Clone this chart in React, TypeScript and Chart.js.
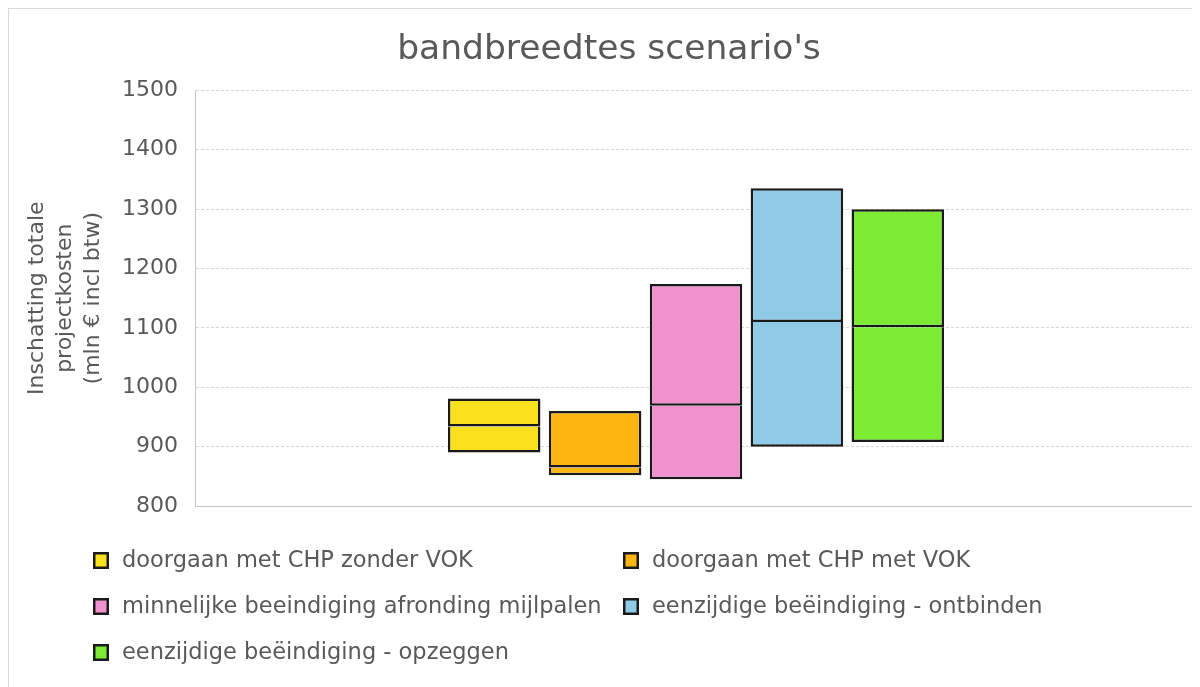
import React, { useEffect, useRef } from "react";
import { Chart, registerables } from "chart.js";

Chart.register(...registerables);

const chartTitle = "bandbreedtes scenario's";
const yAxisTitle = ["Inschatting totale", "projectkosten", "(mln € incl btw)"];
const scenarios = [
  "doorgaan met CHP zonder VOK",
  "doorgaan met CHP met VOK",
  "minnelijke beeindiging afronding mijlpalen",
  "eenzijdige beëindiging - ontbinden",
  "eenzijdige beëindiging - opzeggen",
];
const lowValues = [890, 852, 845, 900, 908];
const midValues = [934, 865, 969, 1110, 1101];
const highValues = [981, 960, 1174, 1335, 1300];
const colors = ["#F9E11E", "#FFB612", "#F092CD", "#8FCAE7", "#7BEB34"];
const yTickValues = [800, 900, 1000, 1100, 1200, 1300, 1400, 1500];

const TEXT = "#595959";
const FONT = "'DejaVu Sans', Verdana, sans-serif";

const gridLegend = {
  id: "gridLegend",
  afterDraw(chart: any) {
    const ctx = chart.ctx;
    const colX = [84, 614];
    const rowY = [551, 597, 643];
    ctx.save();
    ctx.font = `22.5px ${FONT}`;
    ctx.textBaseline = "middle";
    ctx.textAlign = "left";
    scenarios.forEach((name, i) => {
      const x = colX[i % 2];
      const y = rowY[Math.floor(i / 2)];
      ctx.fillStyle = colors[i];
      ctx.fillRect(x, y - 8, 16, 17);
      ctx.lineWidth = 2.5;
      ctx.strokeStyle = "#1a1a1a";
      ctx.strokeRect(x + 1.25, y - 6.75, 13.5, 14.5);
      ctx.fillStyle = TEXT;
      ctx.fillText(name, x + 29, y + 1);
    });
    ctx.restore();
  },
};

export default function App() {
  const ref = useRef<HTMLCanvasElement | null>(null);

  useEffect(() => {
    if (!ref.current) return;
    Chart.defaults.font.family = FONT;
    const datasets: any[] = [];
    scenarios.forEach((name, i) => {
      const common = {
        backgroundColor: colors[i],
        borderColor: "#1a1a1a",
        borderWidth: 2.5,
        stack: "s" + i,
        categoryPercentage: 0.5035,
        barPercentage: 0.917,
      };
      // upper half first so it is drawn on top (its bottom border forms the middle line)
      datasets.push({ ...common, label: name, borderSkipped: false, data: [[midValues[i], highValues[i]]] });
      datasets.push({ ...common, label: name + " (onder)", borderSkipped: "top", data: [[lowValues[i], midValues[i]]] });
    });

    const chart = new Chart(ref.current, {
      type: "bar",
      data: { labels: [""], datasets },
      plugins: [gridLegend],
      options: {
        responsive: false,
        animation: false,
        layout: { padding: { left: 12, right: 3, top: 0, bottom: 181 } },
        plugins: {
          legend: { display: false },
          tooltip: { enabled: false },
          title: {
            display: true,
            text: chartTitle,
            color: TEXT,
            font: { size: 34.5, weight: "normal", family: FONT },
            padding: { top: 20, bottom: 20 },
          },
        },
        scales: {
          x: {
            type: "category",
            grid: { display: false },
            ticks: { display: false },
            border: { display: true, color: "#c8c8c8", width: 1 },
            afterFit: (s: any) => {
              s.height = 0;
            },
          },
          y: {
            stacked: false,
            min: 800,
            max: 1500,
            afterBuildTicks: (s: any) => {
              s.ticks = yTickValues.map((v) => ({ value: v }));
            },
            afterFit: (s: any) => {
              s.width = 174;
            },
            ticks: {
              color: TEXT,
              font: { size: 22, family: FONT },
              padding: 17,
              callback: (v: any) => String(v),
            },
            grid: { color: "#d6d6d6", lineWidth: 1, drawTicks: false },
            border: { display: true, color: "#c8c8c8", width: 1, dash: [3, 2] },
            title: {
              display: true,
              text: yAxisTitle,
              color: TEXT,
              font: { size: 22, family: FONT, lineHeight: 28 / 22 },
              padding: { top: 2, bottom: 0 },
            },
          },
        },
      } as any,
    });
    return () => chart.destroy();
  }, []);

  return (
    <div
      style={{
        width: 1192,
        height: 679,
        borderTop: "1px solid #d9d9d9",
        borderLeft: "1px solid #d9d9d9",
        boxSizing: "border-box",
        background: "#fff",
      }}
    >
      <canvas ref={ref} width={1191} height={678} style={{ display: "block", width: 1191, height: 678 }} />
    </div>
  );
}
